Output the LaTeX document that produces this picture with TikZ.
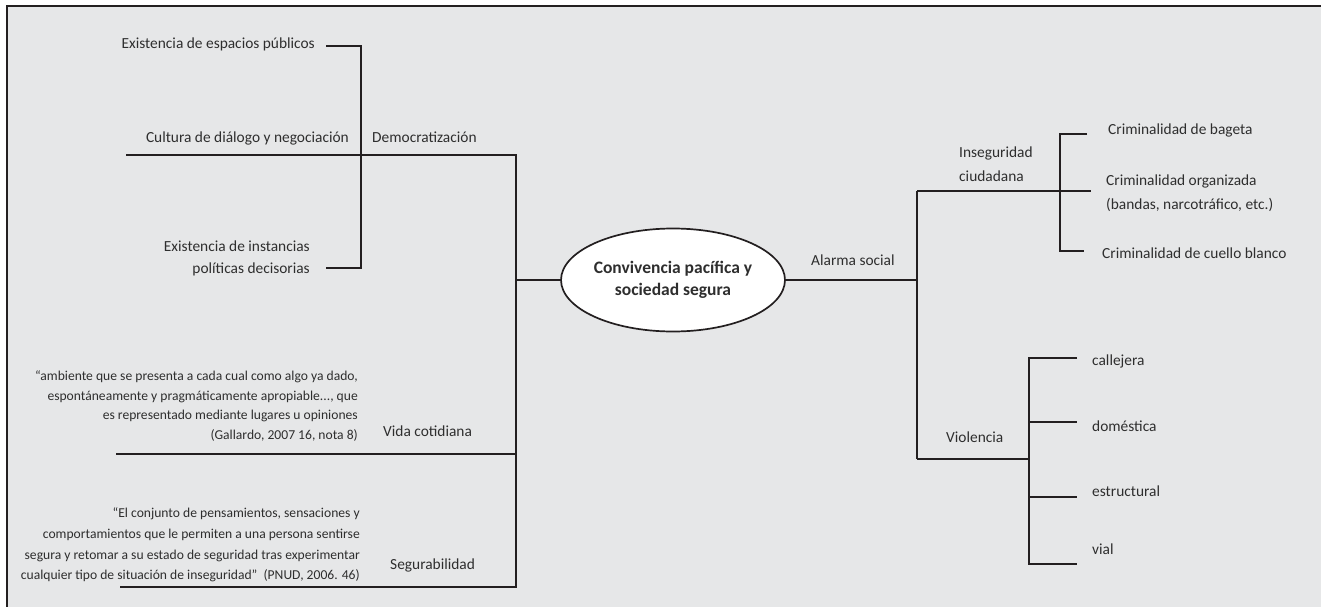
\documentclass[tikz,border=0pt]{standalone}
\usepackage{fontspec}
\setmainfont{Carlito}
\usetikzlibrary{shapes.geometric}
\definecolor{bgc}{HTML}{E6E7E8}
\definecolor{ink}{HTML}{231F20}
\definecolor{txt}{HTML}{2E2E2E}
\tikzset{
  ln/.style={draw=ink, line width=1.7pt},
  lbl/.style={inner sep=0pt, text=txt, font=\fontsize{15.4}{20}\selectfont},
  qt/.style={inner sep=0pt, text=txt, align=right, font=\fontsize{13.6}{19.7}\selectfont},
  ml/.style={inner sep=0pt, text=txt, align=left, font=\fontsize{15.4}{24}\selectfont},
}
\begin{document}
\begin{tikzpicture}[x=1pt,y=-1pt]
\useasboundingbox (0,0) rectangle (1321,607);
\clip (0,0) rectangle (1321,607);
\fill[bgc] (7,6) rectangle (1330,615);
\draw[ink, line width=1.8pt] (7,615) -- (7,6) -- (1330,6);

% ---- left side
\node[lbl, anchor=mid east] (n1) at (315,46) {Existencia de espacios públicos};
\node[lbl, anchor=mid east] (n2) at (349,140) {Cultura de diálogo y negociación};
\node[lbl, anchor=mid west] (dem) at (372,140) {Democratización};
\node[lbl, align=right, anchor=east, font=\fontsize{15.4}{22}\selectfont] (n3) at (310,258) {Existencia de instancias\\políticas decisorias};
\node[qt, anchor=east] (q1) at (358,406) {“ambiente que se presenta a cada cual como algo ya dado,\\espontáneamente y pragmáticamente apropiable..., que\\es representado mediante lugares u opiniones\\(Gallardo, 2007 16, nota 8)};
\node[lbl, anchor=mid west] (vida) at (383,434) {Vida cotidiana};
\node[qt, anchor=east, font=\fontsize{13.6}{20.7}\selectfont] (q2) at (360,545) {“El conjunto de pensamientos, sensaciones y\\comportamientos que le permiten a una persona sentirse\\segura y retomar a su estado de seguridad tras experimentar\\cualquier tipo de situación de inseguridad”\ \ (PNUD, 2006. 46)};
\node[lbl, anchor=mid west] (seg) at (390,567) {Segurabilidad};

\coordinate (a1) at (326,46);
\coordinate (a2) at (361,46);
\coordinate (a3) at (361,268);
\coordinate (a4) at (326,268);
\draw[ln] (a1) -- (a2) -- (a3) -- (a4);

\coordinate (d0) at (126,155);
\coordinate (d1) at (516,155);
\coordinate (v0) at (116,454);
\coordinate (v1) at (516,454);
\coordinate (s0) at (120,587);
\coordinate (s1) at (516,587);
\coordinate (c0) at (516,280);
\draw[ln] (d0) -- (d1) -- (s1) -- (s0);
\draw[ln] (v0) -- (v1);

% ---- center
\node[ellipse, draw=ink, line width=1.7pt, fill=white, minimum width=213pt, minimum height=103pt, inner sep=0pt, align=center, text=txt, font=\fontsize{17.5}{22}\selectfont\bfseries] (ell) at (673,280) {Convivencia pacífica y\\sociedad segura};
\draw[ln] (c0) -- (ell.west);

% ---- right side
\coordinate (r0) at (917,280);
\coordinate (r1) at (917,191);
\coordinate (r2) at (917,459);
\draw[ln] (ell.east) -- (r0);
\draw[ln] (r1) -- (r2);
\node[lbl, anchor=mid west] (alarma) at (811,263) {Alarma social};

\coordinate (i1) at (1091,191);
\coordinate (b0) at (1060,134);
\coordinate (b1) at (1087,134);
\coordinate (b2) at (1060,251);
\coordinate (b3) at (1084,251);
\draw[ln] (r1) -- (i1);
\draw[ln] (b1) -- (b0) -- (b2) -- (b3);
\node[ml, anchor=west] (inseg) at (959,164) {Inseguridad\\ciudadana};
\node[lbl, anchor=mid west] (cb) at (1108,132) {Criminalidad de bageta};
\node[ml, anchor=west] (co) at (1106,193) {Criminalidad organizada\\(bandas, narcotráfico, etc.)};
\node[lbl, anchor=mid west] (cc) at (1102,256) {Criminalidad de cuello blanco};

\coordinate (w1) at (1029,459);
\coordinate (w2) at (1029,358);
\coordinate (w3) at (1029,564);
\coordinate (e1) at (1077,358);
\coordinate (e2) at (1077,422);
\coordinate (e3) at (1077,497);
\coordinate (e4) at (1077,564);
\coordinate (w4) at (1029,422);
\coordinate (w5) at (1029,497);
\draw[ln] (r2) -- (w1);
\draw[ln] (e1) -- (w2) -- (w3) -- (e4);
\draw[ln] (w4) -- (e2);
\draw[ln] (w5) -- (e3);
\node[lbl, anchor=mid west] (viol) at (946,440) {Violencia};
\node[lbl, anchor=mid west] (t1) at (1092,363) {callejera};
\node[lbl, anchor=mid west] (t2) at (1092,429) {doméstica};
\node[lbl, anchor=mid west] (t3) at (1092,494) {estructural};
\node[lbl, anchor=mid west] (t4) at (1092,552) {vial};
\end{tikzpicture}
\end{document}
